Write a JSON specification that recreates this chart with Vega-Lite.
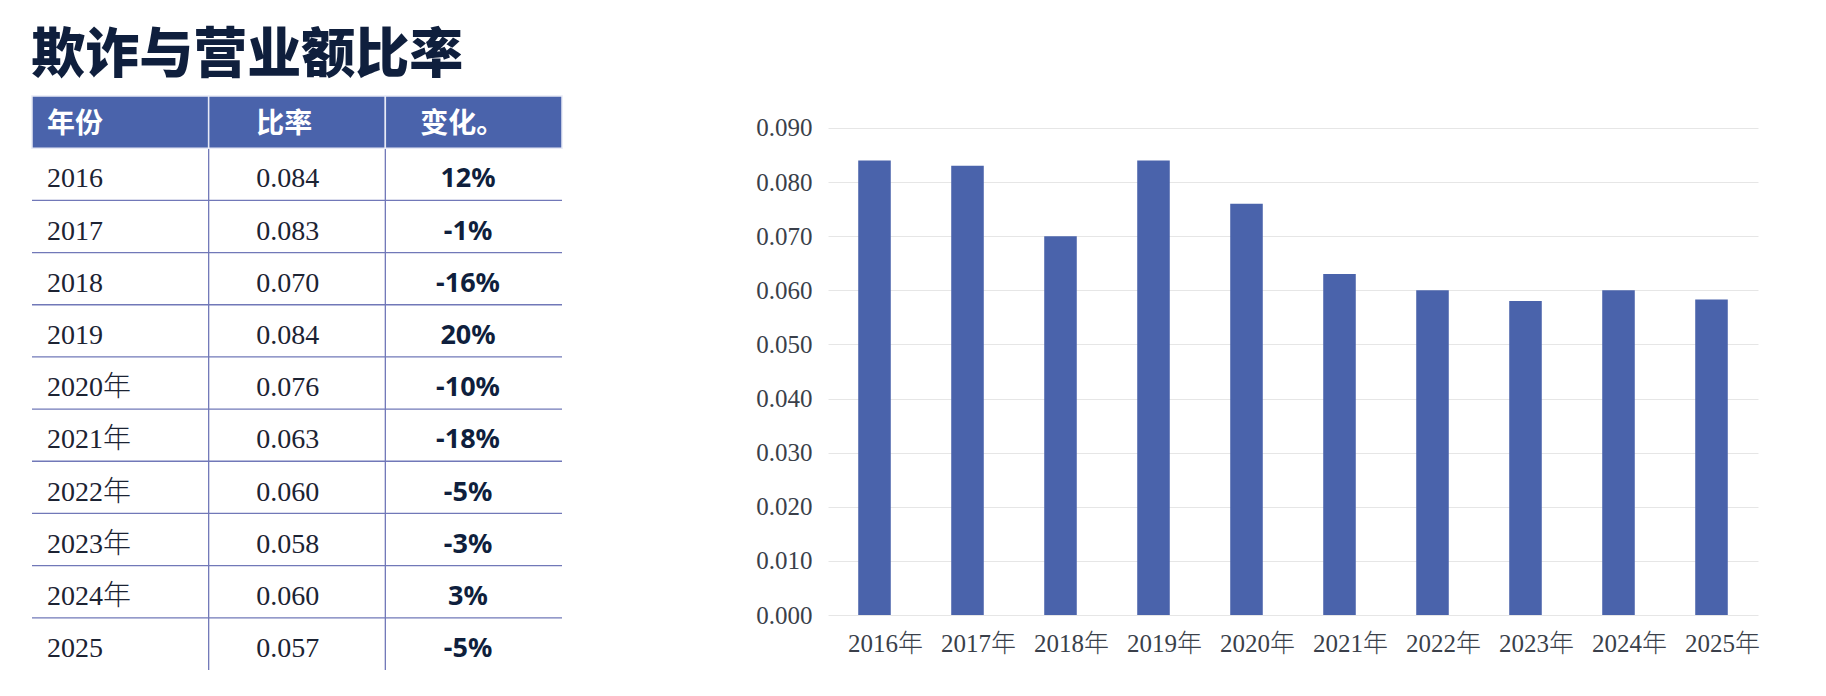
{
  "$schema": "https://vega.github.io/schema/vega-lite/v6.json",
  "padding": {"left": 31, "top": 30, "right": 5, "bottom": 5},
  "background": "#ffffff",
  "title": {
    "text": "欺诈与营业额比率",
    "anchor": "start",
    "font": "Noto Sans CJK SC",
    "fontSize": 54,
    "fontWeight": 900,
    "color": "#0f1f3d",
    "offset": 11
  },
  "datasets": {
    "rows": [
      {"yr": "2016年", "tyear": "2016", "ratio": 0.084, "chg": "12%", "value": 0.084},
      {"yr": "2017年", "tyear": "2017", "ratio": 0.083, "chg": "-1%", "value": 0.083},
      {"yr": "2018年", "tyear": "2018", "ratio": 0.070, "chg": "-16%", "value": 0.070},
      {"yr": "2019年", "tyear": "2019", "ratio": 0.084, "chg": "20%", "value": 0.084},
      {"yr": "2020年", "tyear": "2020年", "ratio": 0.076, "chg": "-10%", "value": 0.076},
      {"yr": "2021年", "tyear": "2021年", "ratio": 0.063, "chg": "-18%", "value": 0.063},
      {"yr": "2022年", "tyear": "2022年", "ratio": 0.060, "chg": "-5%", "value": 0.060},
      {"yr": "2023年", "tyear": "2023年", "ratio": 0.058, "chg": "-3%", "value": 0.058},
      {"yr": "2024年", "tyear": "2024年", "ratio": 0.060, "chg": "3%", "value": 0.060},
      {"yr": "2025年", "tyear": "2025", "ratio": 0.057, "chg": "-5%", "value": 0.0583}
    ],
    "hdr": [
      {"col": "年份", "row": "hdr"},
      {"col": "比率", "row": "hdr"},
      {"col": "变化。", "row": "hdr"}
    ]
  },
  "spacing": 192,
  "hconcat": [
    {
      "width": 530,
      "height": 574,
      "encoding": {
        "x": {"type": "nominal", "axis": null, "scale": {"domain": ["年份", "比率", "变化。"], "paddingInner": 0, "paddingOuter": 0}},
        "y": {"type": "nominal", "axis": null, "scale": {"domain": ["hdr", "2016", "2017", "2018", "2019", "2020年", "2021年", "2022年", "2023年", "2024年", "2025"], "paddingInner": 0, "paddingOuter": 0}}
      },
      "layer": [
        {
          "data": {"name": "rows"},
          "transform": [{"filter": "datum.tyear != '2025'"}],
          "mark": {"type": "rule", "color": "#7178b8", "strokeWidth": 1.3},
          "encoding": {
            "y": {"field": "tyear", "type": "nominal", "bandPosition": 1}
          }
        },
        {
          "data": {"name": "hdr"},
          "transform": [{"filter": "datum.col != '年份'"}],
          "mark": {"type": "rule", "color": "#7178b8", "strokeWidth": 1.3},
          "encoding": {
            "x": {"field": "col", "type": "nominal", "bandPosition": 0}
          }
        },
        {
          "data": {"name": "hdr"},
          "mark": {"type": "rect", "fill": "#4a63ab", "stroke": "#e8eaf6", "strokeWidth": 1.5},
          "encoding": {
            "x": {"field": "col", "type": "nominal"},
            "y": {"field": "row", "type": "nominal"}
          }
        },
        {
          "data": {"name": "hdr"},
          "transform": [{"filter": "datum.col == '年份'"}],
          "mark": {"type": "text", "align": "left", "baseline": "middle", "font": "Noto Sans CJK SC", "fontSize": 28, "fontWeight": "bold", "color": "#ffffff"},
          "encoding": {
            "x": {"field": "col", "type": "nominal", "bandPosition": 0.085},
            "y": {"field": "row", "type": "nominal", "bandPosition": 0.55},
            "text": {"field": "col"}
          }
        },
        {
          "data": {"name": "hdr"},
          "transform": [{"filter": "datum.col == '比率'"}],
          "mark": {"type": "text", "align": "left", "baseline": "middle", "font": "Noto Sans CJK SC", "fontSize": 28, "fontWeight": "bold", "color": "#ffffff"},
          "encoding": {
            "x": {"field": "col", "type": "nominal", "bandPosition": 0.27},
            "y": {"field": "row", "type": "nominal", "bandPosition": 0.55},
            "text": {"field": "col"}
          }
        },
        {
          "data": {"name": "hdr"},
          "transform": [{"filter": "datum.col == '变化。'"}],
          "mark": {"type": "text", "align": "left", "baseline": "middle", "font": "Noto Sans CJK SC", "fontSize": 28, "fontWeight": "bold", "color": "#ffffff"},
          "encoding": {
            "x": {"field": "col", "type": "nominal", "bandPosition": 0.198},
            "y": {"field": "row", "type": "nominal", "bandPosition": 0.55},
            "text": {"field": "col"}
          }
        },
        {
          "data": {"name": "rows"},
          "mark": {"type": "text", "align": "left", "baseline": "middle", "font": "Liberation Serif, Noto Sans CJK SC", "fontSize": 28, "fontWeight": 300, "color": "#1c2333"},
          "encoding": {
            "x": {"datum": "年份", "type": "nominal", "bandPosition": 0.085},
            "y": {"field": "tyear", "type": "nominal", "bandPosition": 0.6},
            "text": {"field": "tyear"}
          }
        },
        {
          "data": {"name": "rows"},
          "mark": {"type": "text", "align": "left", "baseline": "middle", "font": "Liberation Serif", "fontSize": 28, "fontWeight": 300, "color": "#1c2333"},
          "encoding": {
            "x": {"datum": "比率", "type": "nominal", "bandPosition": 0.27},
            "y": {"field": "tyear", "type": "nominal", "bandPosition": 0.6},
            "text": {"field": "ratio", "type": "quantitative", "format": ".3f"}
          }
        },
        {
          "data": {"name": "rows"},
          "mark": {"type": "text", "align": "center", "baseline": "middle", "font": "Noto Sans", "fontSize": 27, "fontWeight": "bold", "color": "#0f1f3d"},
          "encoding": {
            "x": {"datum": "变化。", "type": "nominal", "bandPosition": 0.468},
            "y": {"field": "tyear", "type": "nominal", "bandPosition": 0.6},
            "text": {"field": "chg"}
          }
        }
      ]
    },
    {
      "width": 930,
      "height": 519,
      "data": {"name": "rows"},
      "mark": {"type": "bar", "color": "#4a63ab"},
      "encoding": {
        "x": {
          "field": "yr",
          "type": "nominal",
          "scale": {"paddingInner": 0.65, "paddingOuter": 0.325},
          "axis": {"title": null, "labelAngle": 0, "domain": false, "ticks": false, "labelPadding": 16, "labelOffset": 11, "labelFont": "Liberation Serif, Noto Sans CJK SC", "labelFontSize": 25, "labelFontWeight": 300, "labelColor": "#3a3f4a"}
        },
        "y": {
          "field": "value",
          "type": "quantitative",
          "scale": {"domain": [0, 0.0959], "nice": false, "zero": true},
          "axis": {"title": null, "values": [0, 0.01, 0.02, 0.03, 0.04, 0.05, 0.06, 0.07, 0.08, 0.09], "format": ".3f", "domain": false, "ticks": false, "labelPadding": 16, "labelFont": "Liberation Serif", "labelFontSize": 25, "labelColor": "#3a3f4a", "gridColor": "#e6e6e6", "gridWidth": 1}
        }
      }
    }
  ],
  "config": {
    "view": {"stroke": null}
  }
}
